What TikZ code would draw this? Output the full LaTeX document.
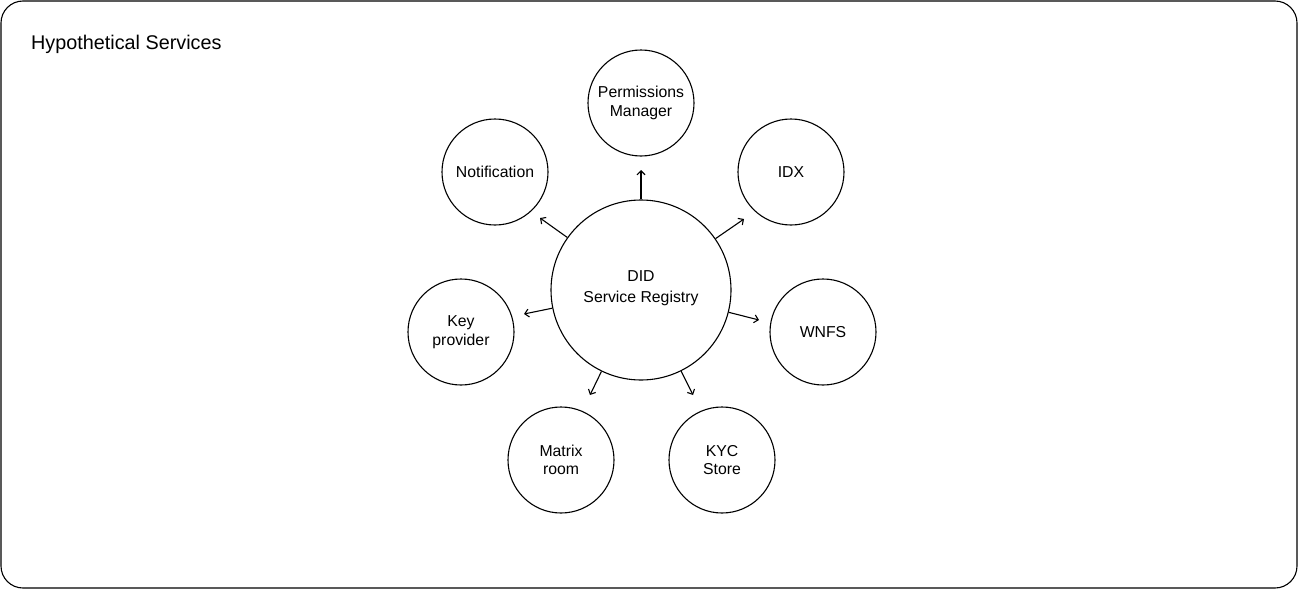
\documentclass[tikz,border=0pt]{standalone}
\usepackage{fontspec}
\setmainfont{Liberation Sans}
\usetikzlibrary{arrows.meta}
\begin{document}
\begin{tikzpicture}[x=1pt,y=-1pt,
  svc/.style={circle,draw,line width=1.1pt,minimum size=106pt,inner sep=0pt,align=center,font=\fontsize{15.8}{18.5}\selectfont},
  hub/.style={svc,minimum size=180pt,font=\fontsize{15.8}{21}\selectfont,text depth=7.5pt},
  link/.style={line width=1.1pt,-{Straight Barb[length=4pt,width=8pt,line width=1.1pt]}}]
\useasboundingbox (0,0) rectangle (1298,589);
\draw[line width=1.1pt,rounded corners=22pt] (1,1) rectangle (1297,588);
\node[anchor=base west,inner sep=0pt,font=\fontsize{19.8}{24}\selectfont] (title) at (31,49) {Hypothetical Services};
\node[hub] (c) at (641,290) {DID\\Service Registry};
\node[svc] (perm) at (641,103) {Permissions\\Manager};
\node[svc] (idx) at (791,172) {IDX};
\node[svc] (notif) at (495,172) {Notification};
\node[svc] (wnfs) at (823,332) {WNFS};
\node[svc] (key) at (461,332) {Key\\provider};
\node[svc] (matrix) at (561,460) {Matrix\\room};
\node[svc] (kyc) at (722,460) {KYC\\Store};
\coordinate (e1) at (641,170);
\coordinate (e2) at (540,218);
\coordinate (e3) at (744,219);
\coordinate (e4) at (524,314);
\coordinate (e5) at (759,320);
\coordinate (e6) at (590,395);
\coordinate (e7) at (693,395);
\foreach \e in {e1,e2,e3,e4,e5,e6,e7} \draw[link] (c) -- (\e);
\end{tikzpicture}
\end{document}
